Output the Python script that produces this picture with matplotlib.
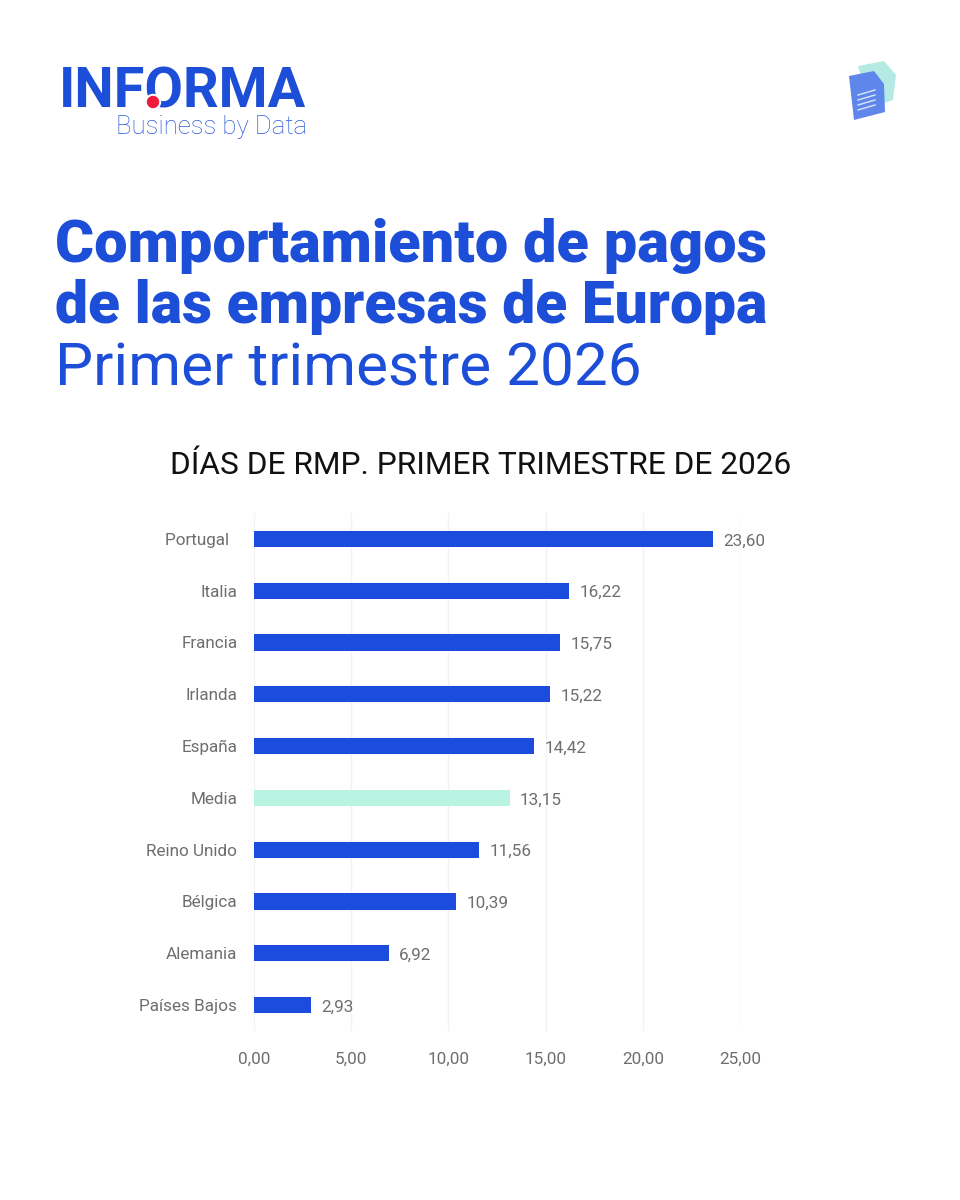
import matplotlib
matplotlib.use("Agg")
import matplotlib.pyplot as plt
from matplotlib.patches import Polygon, Circle

countries = ["Portugal", "Italia", "Francia", "Irlanda", "España", "Media",
             "Reino Unido", "Bélgica", "Alemania", "Países Bajos"]
values = [23.60, 16.22, 15.75, 15.22, 14.42, 13.15, 11.56, 10.39, 6.92, 2.93]
x_ticks = [0, 5, 10, 15, 20, 25]

BLUE = "#1D4ED8"
BAR = "#1B4CDD"
MINT = "#B9F3E1"
GREY = "#6E6E6E"
W, H = 960, 1200
FONT = ["Roboto", "DejaVu Sans"]
plt.rcParams["font.family"] = FONT


def fmt(v):
    return f"{v:.2f}".replace(".", ",")


fig = plt.figure(figsize=(W / 100, H / 100), dpi=100, facecolor="white")


def px(x, y, s, **kw):
    return fig.text(x / W, 1 - y / H, s, **kw)


# Chart
ax = fig.add_axes([254 / W, 1 - 1031 / H, (740 - 254) / W, (1031 - 513) / H])
colors = [MINT if c == "Media" else BAR for c in countries]
ypos = list(range(len(countries)))
ax.barh(ypos, values, height=0.31, color=colors, zorder=3)
ax.set_ylim(len(countries) - 0.5, -0.5)
ax.set_xlim(0, 25)
ax.set_xticks(x_ticks)
ax.set_xticklabels([fmt(t) for t in x_ticks], fontsize=12.3, color=GREY)
ax.set_yticks(ypos)
ax.set_yticklabels([c + ("  " if c == "Portugal" else "") for c in countries],
                   fontsize=12.3, color=GREY)
ax.tick_params(axis="both", length=0)
ax.tick_params(axis="x", pad=15)
ax.tick_params(axis="y", pad=12)
ax.grid(axis="x", color="#F2F2F2", linewidth=1, zorder=0)
for s in ax.spines.values():
    s.set_visible(False)
for y, v in zip(ypos, values):
    ax.annotate(fmt(v), (v, y), xytext=(7.5, -1.5), textcoords="offset points",
                va="center", ha="left", fontsize=12.3, color=GREY)

# Titles
px(55, 262, "Comportamiento de pagos", fontsize=42.8, fontweight="black", color=BLUE, va="baseline", ha="left")
px(55, 323, "de las empresas de Europa", fontsize=42.3, fontweight="black", color=BLUE, va="baseline", ha="left")
px(55, 385, "Primer trimestre 2026", fontsize=43.5, fontweight="regular", color=BLUE, va="baseline", ha="left")
px(481, 474, "DÍAS DE RMP. PRIMER TRIMESTRE DE 2026", fontsize=22.8, color="#111111", va="baseline", ha="center")

# Logo
px(59, 107, "INFORMA", fontsize=40.2, fontweight="bold", color=BLUE, va="baseline", ha="left")
px(116, 134, "Business by Data", fontsize=18.5, fontweight="light", color="#2F5BDC", va="baseline", ha="left")

# Overlay covering whole figure for logo dot and icon, in pixel coordinates
ov = fig.add_axes([0, 0, 1, 1], zorder=5)
ov.set_xlim(0, W)
ov.set_ylim(H, 0)
ov.axis("off")
ov.patch.set_alpha(0)
ov.add_patch(Circle((153, 102), 7.5, color="white"))
ov.add_patch(Circle((153, 102), 5.5, color="#EE1C3A"))
ov.add_patch(Polygon([(858, 66), (884, 61), (896, 75), (893, 100), (870, 108)], color="#A8E6E0", alpha=.85, lw=0))
ov.add_patch(Polygon([(849, 76), (874, 71), (884, 84), (885, 112), (854, 120)], color="#5F86EA", lw=0))
for i in range(4):
    y = 92 + i * 5
    ov.plot([858, 875], [y + 3, y - 2], color="#DCE6FF", lw=1)

fig.savefig("out.png", dpi=100, facecolor="white")
